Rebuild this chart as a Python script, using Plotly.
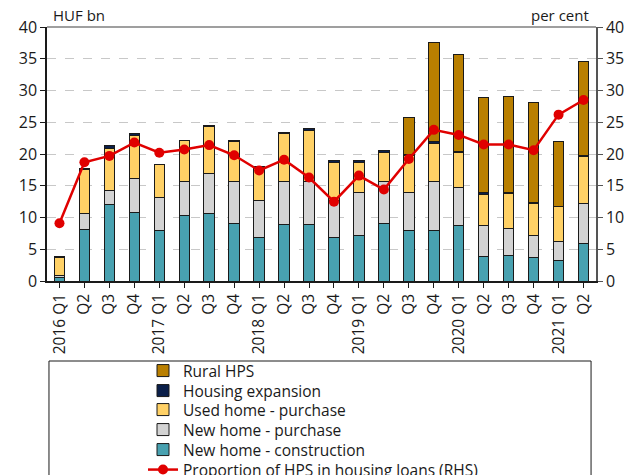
import plotly.graph_objects as go

quarters = ["2016 Q1", "Q2", "Q3", "Q4", "2017 Q1", "Q2", "Q3", "Q4",
            "2018 Q1", "Q2", "Q3", "Q4", "2019 Q1", "Q2", "Q3", "Q4",
            "2020 Q1", "Q2", "Q3", "Q4", "2021 Q1", "Q2"]
cats = list(range(len(quarters)))

new_construction = [0.5, 8.1, 12.1, 10.8, 8.0, 10.3, 10.7, 9.1, 6.9, 8.9, 8.9,
                    6.8, 7.1, 9.1, 7.9, 7.9, 8.8, 3.9, 4.0, 3.7, 3.3, 5.9]
new_purchase = [0.4, 2.6, 2.2, 5.4, 5.1, 5.3, 6.2, 6.5, 5.8, 6.7, 6.8,
                5.9, 6.9, 6.6, 6.0, 7.8, 6.0, 4.9, 4.3, 3.5, 3.0, 6.3]
used_purchase = [2.8, 6.8, 6.6, 6.7, 5.2, 6.5, 7.4, 6.4, 5.2, 7.7, 8.0,
                 6.0, 4.7, 4.6, 5.9, 6.0, 5.5, 4.85, 5.5, 5.0, 5.4, 7.4]
housing_expansion = [0.2, 0.2, 0.4, 0.3, 0.1, 0.1, 0.2, 0.2, 0.1, 0.1, 0.3,
                     0.2, 0.2, 0.2, 0.1, 0.2, 0.1, 0.25, 0.2, 0.2, 0.1, 0.2]
rural_hps = [0, 0, 0, 0, 0, 0, 0, 0, 0, 0, 0,
             0, 0, 0, 5.9, 15.7, 15.3, 15.0, 15.1, 15.7, 10.2, 14.7]
proportion = [9.1, 18.7, 19.7, 21.8, 20.2, 20.7, 21.4, 19.8, 17.4, 19.1, 16.3,
              12.5, 16.6, 14.4, 19.2, 23.8, 23.0, 21.5, 21.5, 20.6, 26.2, 28.5]

y_ticks = [0, 5, 10, 15, 20, 25, 30, 35, 40]

FONT = "Open Sans"
TXT = "#1a1a1a"
W, H = 629, 475

# legend rows (pixel y of each row centre), top to bottom
row_y = [371, 391, 410, 430, 450, 470]
legend_left = 143

fig = go.Figure()
series = [
    ("New home - construction", new_construction, "#48a1b0", 4),
    ("New home - purchase", new_purchase, "#d3d3d3", 3),
    ("Used home - purchase", used_purchase, "#ffd166", 2),
    ("Housing expansion", housing_expansion, "#0b1f4a", 1),
    ("Rural HPS", rural_hps, "#b97f00", 0),
]
for name, vals, col, row in series:
    lg = "legend" if row == 0 else f"legend{row + 1}"
    fig.add_trace(go.Bar(
        x=cats, y=vals, name=name, width=0.42,
        marker=dict(color=col, line=dict(color="#1a1a1a", width=1)),
        legend=lg,
    ))

fig.add_trace(go.Scatter(
    x=cats, y=proportion, name="Proportion of HPS in housing loans (RHS)",
    mode="lines+markers", yaxis="y2",
    line=dict(color="#e00000", width=2.5),
    marker=dict(color="#e00000", size=10),
    legend="legend6",
))

legend_style = dict(
    xref="container", yref="container", xanchor="left", yanchor="middle",
    bgcolor="rgba(0,0,0,0)", borderwidth=0,
    font=dict(size=15.5, family=FONT, color=TXT), itemwidth=30,
)
legends = {}
for i, ry in enumerate(row_y):
    key = "legend" if i == 0 else f"legend{i + 1}"
    legends[key] = dict(legend_style, x=legend_left / W, y=1 - ry / H)

fig.update_layout(
    width=W, height=H,
    margin=dict(l=47, r=33, t=27, b=194, autoexpand=False),
    barmode="stack",
    plot_bgcolor="white", paper_bgcolor="white",
    font=dict(family=FONT, size=15, color=TXT),
    xaxis=dict(
        tickmode="array", tickvals=cats, ticktext=quarters,
        range=[-0.5, len(cats) - 0.5],
        tickangle=-90, tickson="boundaries",
        ticks="outside", ticklen=5, tickcolor="#1a1a1a",
        showline=True, linecolor="#1a1a1a", linewidth=1.5,
        showgrid=False, zeroline=False, automargin=False,
        tickfont=dict(size=15.5, family=FONT, color=TXT),
    ),
    yaxis=dict(
        range=[0, 40], tickvals=y_ticks,
        ticks="outside", ticklen=5, tickcolor="#1a1a1a",
        showline=True, linecolor="#1a1a1a", linewidth=1.5,
        showgrid=True, gridcolor="#c8c8c8", griddash="dash", gridwidth=1,
        zeroline=False, automargin=False,
        tickfont=dict(size=16, family=FONT, color=TXT),
    ),
    yaxis2=dict(
        range=[0, 40], tickvals=y_ticks, overlaying="y", side="right",
        ticks="outside", ticklen=5, tickcolor="#555555",
        showline=True, linecolor="#555555", linewidth=1.5,
        showgrid=False, zeroline=False, automargin=False,
        tickfont=dict(size=16, family=FONT, color=TXT),
    ),
    showlegend=True,
    shapes=[
        dict(type="line", xref="paper", yref="paper", x0=0, x1=1, y0=1, y1=1,
             line=dict(color="#7f7f7f", width=1.5)),
        dict(type="rect", xref="paper", yref="paper", x0=0.0036, x1=0.991,
             y0=-0.9, y1=-0.315, line=dict(color="#1a1a1a", width=1),
             fillcolor="rgba(0,0,0,0)", layer="below"),
    ],
    annotations=[
        dict(text="HUF bn", xref="paper", yref="paper", x=0.008, y=1.0,
             xanchor="left", yanchor="bottom", showarrow=False,
             font=dict(size=15, family=FONT, color=TXT)),
        dict(text="per cent", xref="paper", yref="paper", x=0.99, y=1.0,
             xanchor="right", yanchor="bottom", showarrow=False,
             font=dict(size=15, family=FONT, color=TXT)),
    ],
    **legends,
)

fig.write_html(
    "out.html",
    config={"displayModeBar": False},
    post_script="document.body.style.margin='0';document.body.style.overflow='hidden';",
)
